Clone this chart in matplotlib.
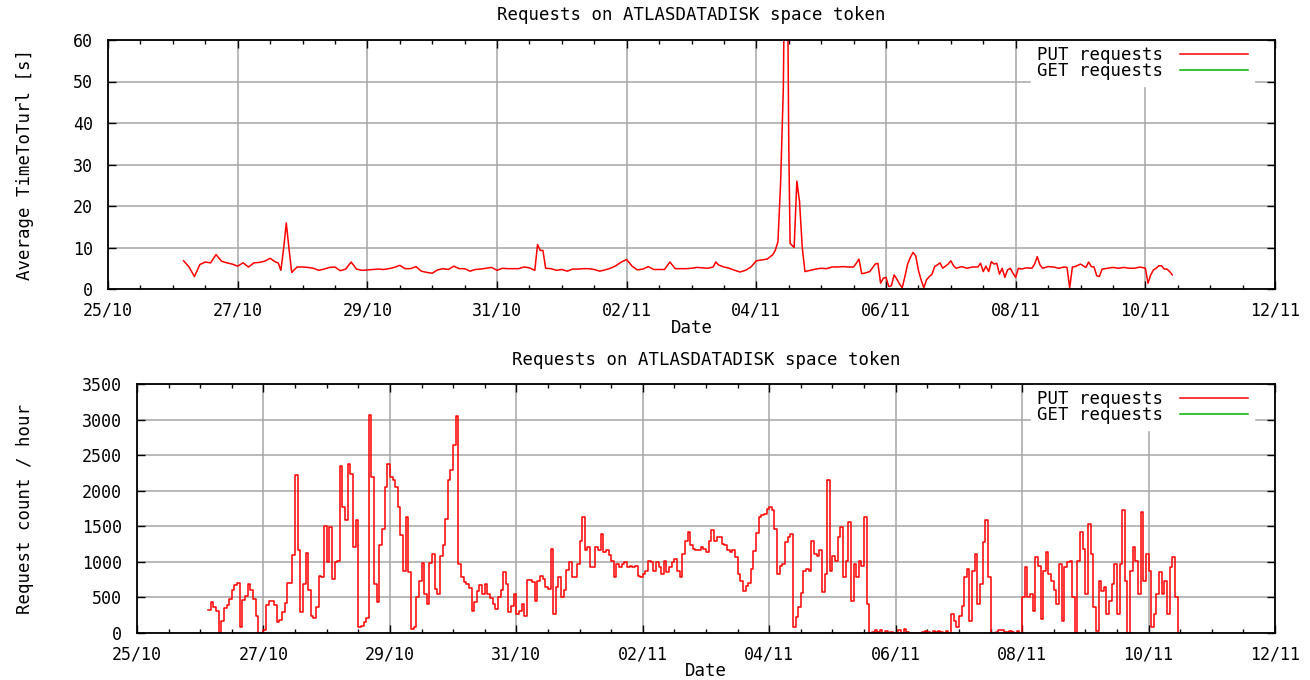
import matplotlib
matplotlib.use("Agg")
import matplotlib.pyplot as plt
import matplotlib.dates as mdates
import numpy as np
import pandas as pd

# ---------------- data ----------------
title_text = "Requests on ATLASDATADISK space token"
series_labels = ["PUT requests", "GET requests"]
start_day = "2009-10-26 00:00"          # hours below are counted from this moment
xrange_days = ["2009-10-25", "2009-11-12"]

# Top panel: average TimeToTurl [s] of PUT requests (hour offset, value)
put_turl_hours = [4, 6, 8, 10, 12, 14, 16, 18, 20, 22, 24, 26, 28, 30, 32, 34, 36, 38, 39,
                  40, 41, 42, 43, 44, 46, 48, 50, 52, 54, 56, 58, 60, 62, 64, 66, 68, 70,
                  72, 74, 76, 78, 80, 82, 84, 86, 88, 90, 92, 94, 96, 98, 100, 102, 104,
                  106, 108, 110, 112, 114, 116, 118, 120, 122, 124, 126, 128, 130, 132,
                  134, 135, 136, 137, 138, 140, 142, 144, 146, 148, 150, 152, 154, 156,
                  158, 160, 162, 164, 166, 168, 170, 172, 174, 176, 178, 180, 182, 184,
                  186, 188, 190, 192, 194, 196, 198, 200, 201, 202, 204, 206, 208, 210,
                  212, 214, 216, 218, 220, 222, 223, 224, 225, 226, 226.5, 227.5, 228, 228.5,
                  230, 231, 232, 233, 234, 236, 238, 240, 242, 244, 246, 248, 250, 252, 253,
                  254, 255, 256, 258, 260, 261, 262, 263, 264, 265, 266, 267, 268, 269,
                  270, 271, 272, 273, 274, 275, 276, 277, 278, 279, 280, 281, 282, 283,
                  284, 285, 286, 287, 288, 289, 290, 292, 294, 296, 298, 299, 300, 301,
                  302, 303, 304, 305, 306, 307, 308, 309, 310, 311, 312, 313, 314, 316,
                  318, 319, 320, 321, 322, 324, 326, 328, 330, 331, 332, 333, 334, 336,
                  338, 339, 340, 341, 342, 343, 344, 346, 348, 350, 352, 354, 356, 358,
                  360, 361, 362, 363, 364, 365, 366, 367, 368, 369, 370]
put_turl_s = [6.8, 5.3, 3.0, 5.9, 6.5, 6.3, 8.3, 6.7, 6.3, 6.0, 5.5, 6.3, 5.3, 6.3, 6.4, 6.7, 7.4, 6.5, 6.3,
              4.5, 9.7, 15.9, 9.7, 4.0, 5.3, 5.3, 5.2, 5.0, 4.5, 4.8, 5.2, 5.3, 4.4, 4.8, 6.5, 4.8, 4.5,
              4.6, 4.7, 4.8, 4.7, 4.9, 5.2, 5.7, 4.9, 4.9, 5.4, 4.3, 4.0, 3.8, 4.6, 4.9, 4.7, 5.5,
              4.9, 4.9, 4.3, 4.7, 4.8, 5.0, 5.2, 4.5, 5.0, 4.9, 4.9, 4.9, 5.3, 5.1,
              4.5, 10.7, 9.3, 9.3, 5.0, 4.9, 4.5, 4.7, 4.3, 4.8, 4.8, 4.9, 4.9, 4.7,
              4.3, 4.6, 5.0, 5.6, 6.5, 7.1, 5.5, 4.6, 4.8, 5.4, 4.7, 4.7, 4.7, 6.5,
              4.9, 4.9, 4.9, 5.0, 5.2, 5.1, 5.0, 5.3, 6.5, 5.8, 5.3, 5.0, 4.5, 4.1,
              4.5, 5.3, 6.8, 7.0, 7.2, 8.2, 9.3, 11.4, 25.8, 48.6, 80.0, 80.0, 35.0, 11.0,
              10.0, 26.0, 21.0, 10.0, 4.2, 4.5, 4.8, 5.0, 4.9, 5.3, 5.3, 5.4, 5.3, 5.3, 6.2,
              7.2, 3.7, 3.8, 4.2, 6.0, 6.2, 1.4, 2.6, 2.8, 0.6, 0.8, 3.4, 2.4, 1.2,
              0.3, 3.0, 6.0, 7.6, 8.8, 8.0, 4.5, 2.2, 0.3, 2.2, 3.0, 3.5, 5.4, 5.8,
              6.3, 5.0, 5.5, 6.0, 6.8, 5.6, 5.0, 5.4, 5.0, 5.3, 5.3, 6.2, 4.2, 5.5,
              4.2, 6.6, 6.0, 6.2, 3.6, 5.0, 2.8, 4.6, 5.0, 3.8, 2.8, 5.0, 4.8, 5.1,
              5.0, 6.0, 7.8, 5.8, 5.0, 5.4, 5.3, 5.0, 5.3, 5.2, 0.3, 5.3, 5.4, 6.0,
              5.2, 6.5, 5.4, 5.3, 3.2, 3.0, 4.8, 5.0, 5.2, 5.0, 5.2, 5.0, 5.0, 5.3,
              5.0, 1.4, 3.4, 4.6, 5.0, 5.6, 5.6, 4.8, 4.8, 4.2, 3.4]

# Bottom panel: PUT request count per hour, hours 3 .. 371 after start_day
put_count_first_hour = 3
put_count = [
    324, 432, 360, 315, 0, 174, 350, 400, 480, 600, 680, 700, 80, 470, 520, 690, 600, 480, 244, 0, 0,
    40, 400, 455, 450, 400, 150, 180, 300, 420, 700, 700, 1100, 2216, 1160, 300, 690, 1122, 600, 244, 211, 371, 800, 784, 1498,
    995, 1488, 760, 1000, 1018, 2343, 1770, 1582, 2380, 2239, 1206, 1582, 80, 103, 150, 211, 3061, 2193, 690, 432, 1230, 1465, 2051, 2380,
    2193, 2146, 2051, 1770, 1371, 878, 1629, 854, 56, 80, 502, 737, 981, 549, 408, 981, 1113, 620, 549, 1089, 1230, 1606, 2146, 2286,
    2638, 3047, 972, 793, 714, 690, 634, 315, 432, 596, 680, 549, 690, 550, 490, 408, 338, 502, 600, 854, 690, 300, 385, 549,
    268, 315, 408, 244, 750, 746, 714, 455, 737, 808, 760, 643, 620, 1183, 268, 643, 784, 502, 600, 887, 995, 784, 784, 972,
    1300, 1629, 1160, 1206, 925, 925, 1206, 1160, 1394, 1136, 1160, 1100, 1019, 784, 972, 925, 972, 995, 925, 948, 925, 948, 808, 784,
    831, 878, 1019, 995, 878, 995, 925, 831, 1019, 854, 925, 995, 1042, 878, 784, 1113, 1300, 1418, 1230, 1183, 1160, 1160, 1206, 1183,
    1136, 1300, 1441, 1300, 1347, 1347, 1254, 1230, 1160, 1136, 1160, 1066, 831, 737, 596, 667, 700, 900, 1150, 1400, 1629, 1653, 1676, 1746,
    1770, 1723, 1465, 831, 948, 972, 1277, 1347, 1394, 80, 220, 361, 560, 878, 901, 878, 1300, 1113, 1089, 1160, 573, 831, 2146, 878,
    1089, 1019, 1347, 1488, 784, 1019, 1559, 455, 972, 784, 1019, 948, 1629, 408, 0, 20, 40, 10, 40, 0, 30, 0, 20, 0,
    0, 40, 0, 60, 10, 0, 0, 0, 0, 0, 10, 30, 20, 0, 30, 10, 30, 20, 0, 30, 0, 268, 174, 80,
    244, 385, 784, 901, 174, 878, 1113, 408, 690, 1277, 1582, 784, 0, 0, 20, 40, 40, 20, 10, 30, 20, 0, 30, 0,
    502, 925, 502, 549, 315, 1066, 948, 197, 878, 1136, 831, 737, 600, 408, 972, 174, 925, 995, 1019, 502, 0, 1019, 1418, 1183,
    549, 1535, 1113, 361, 32, 737, 596, 643, 268, 455, 690, 972, 268, 972, 1723, 737, 0, 878, 1206, 1019, 549, 1700, 737, 1113,
    878, 80, 268, 549, 854, 549, 737, 268, 925, 1066, 502, 0,
]

top_yticks = [0, 10, 20, 30, 40, 50, 60]
bottom_yticks = [0, 500, 1000, 1500, 2000, 2500, 3000, 3500]

# ---------------- drawing ----------------
FONT = "DejaVu Sans Mono"
FS = 12.5
TICK_FS = 12
plt.rcParams["font.family"] = [FONT, "DejaVu Sans"]
plt.rcParams["font.size"] = FS

base = pd.Timestamp(start_day)
t_turl = base + pd.to_timedelta(put_turl_hours, unit="h")
t_count = base + pd.to_timedelta(np.arange(put_count_first_hour,
                                           put_count_first_hour + len(put_count)), unit="h")
x0, x1 = pd.Timestamp(xrange_days[0]), pd.Timestamp(xrange_days[1])
major = pd.date_range(x0, x1, freq="2D")
minor = pd.date_range(x0, x1, freq="12h")

W, H = 1310, 680
fig = plt.figure(figsize=(W / 100, H / 100), dpi=100)
ax1 = fig.add_axes([108 / W, 1 - 289 / H, 1167 / W, 249 / H])
ax2 = fig.add_axes([137 / W, 1 - 633 / H, 1138 / W, 249 / H])

RED = "#ff0000"
GREEN = "#00b000"
GRID = "#a6a6a6"


def style(ax, yticks, ylabel, title_y, xlabel_y, ylabel_x, ax_left, ax_width):
    ax.set_xlim(x0, x1)
    ax.set_xticks(major)
    ax.set_xticks(minor, minor=True)
    ax.xaxis.set_major_formatter(mdates.DateFormatter("%d/%m"))
    ax.set_ylim(yticks[0], yticks[-1])
    ax.set_yticks(yticks)
    ax.grid(True, which="major", color=GRID, lw=1.1)
    ax.set_axisbelow(True)
    ax.tick_params(which="major", direction="in", top=True, right=True,
                   length=6, width=1.0, labelsize=TICK_FS, color="black")
    ax.tick_params(which="minor", direction="in", top=True, right=True,
                   length=3, width=1.0)
    ax.tick_params(axis="x", pad=9)
    ax.tick_params(axis="y", pad=11)
    for sp in ax.spines.values():
        sp.set_linewidth(1.3)
        sp.set_zorder(5)
    ax.set_title(title_text, y=title_y, va="center", pad=0, fontsize=FS)
    ax.set_xlabel("Date", va="center", fontsize=FS)
    ax.xaxis.set_label_coords(0.5, xlabel_y)
    ax.set_ylabel(ylabel, va="center", ha="center", fontsize=FS)
    ax.yaxis.set_label_coords(ylabel_x, 0.5)
    # key: text first, then the line sample ending near x = 1254 px
    leg = ax.legend(loc="upper right", bbox_to_anchor=((1254 - ax_left) / ax_width, 1.0),
                    markerfirst=False, frameon=True,
                    facecolor="white", edgecolor="white", framealpha=1.0,
                    fancybox=False, handlelength=3.9, handletextpad=1.0,
                    labelspacing=-0.12, borderpad=0.35, borderaxespad=0.0,
                    fontsize=FS)
    leg.set_zorder(4)


ax1.plot(t_turl, put_turl_s, color=RED, lw=1.1, label=series_labels[0], zorder=3)
ax1.plot([], [], color=GREEN, lw=1.1, label=series_labels[1])
style(ax1, top_yticks, "Average TimeToTurl [s]",
      title_y=(289 - 15) / 249, xlabel_y=(289 - 328) / 249, ylabel_x=(25 - 108) / 1167,
      ax_left=108, ax_width=1167)

ax2.plot(t_count, put_count, color=RED, lw=1.1, drawstyle="steps-post",
         label=series_labels[0], zorder=3)
ax2.plot([], [], color=GREEN, lw=1.1, label=series_labels[1])
style(ax2, bottom_yticks, "Request count / hour",
      title_y=(633 - 360) / 249, xlabel_y=(633 - 671) / 249, ylabel_x=(25 - 137) / 1138,
      ax_left=137, ax_width=1138)

fig.savefig("out.png", dpi=100, facecolor="white")
